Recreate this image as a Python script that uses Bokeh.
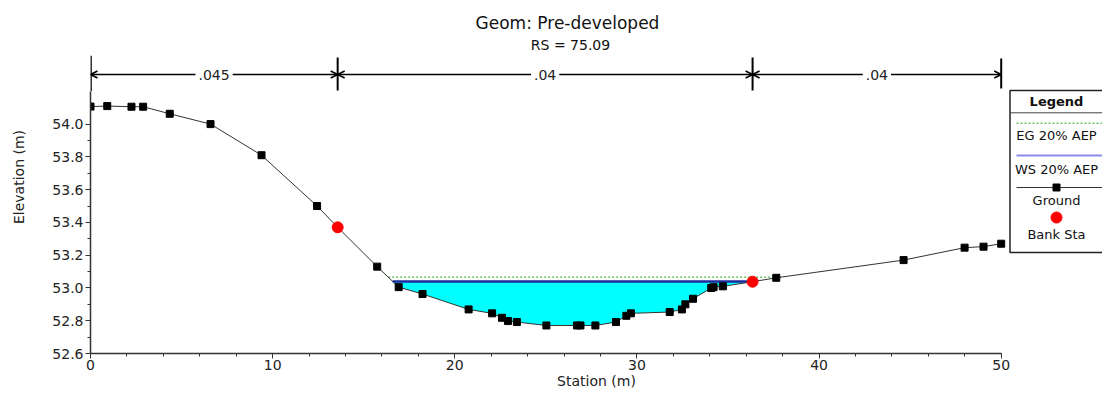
import numpy as np
from bokeh.plotting import figure
from bokeh.models import FixedTicker, Arrow, OpenHead, Label, PrintfTickFormatter
from bokeh.core.properties import value
from bokeh.embed import file_html
from bokeh.resources import INLINE

# ---------------- data ----------------
title_text = "Geom: Pre-developed"
subtitle_text = "RS = 75.09"
x_title = "Station (m)"
y_title = "Elevation (m)"

station = [0.0, 0.92, 2.25, 2.89, 4.35, 6.59, 9.39, 12.44, 13.57, 15.74, 16.92,
           18.23, 20.76, 22.05, 22.59, 22.92, 23.41, 25.03, 26.71, 26.9, 27.72,
           28.85, 29.42, 29.67, 31.8, 32.47, 32.66, 33.08, 34.08, 34.21, 34.72,
           36.35, 37.65, 44.64, 47.99, 49.03, 50.0]
elevation = [54.107, 54.11, 54.106, 54.106, 54.063, 54.0, 53.81, 53.50, 53.37,
             53.13, 53.005, 52.963, 52.869, 52.845, 52.818, 52.798, 52.792,
             52.771, 52.771, 52.771, 52.771, 52.792, 52.83, 52.845, 52.853,
             52.869, 52.9, 52.934, 53.0, 53.005, 53.01, 53.038, 53.062, 53.17,
             53.246, 53.252, 53.27]
bank_sta = [13.57, 36.35]
ws_elev = 53.04     # WS 20% AEP
eg_elev = 53.066    # EG 20% AEP
n_labels = [".045", ".04", ".04"]

x_major = [0, 10, 20, 30, 40, 50]
x_minor = [2, 4, 6, 8, 12, 14, 16, 18, 22, 24, 26, 28, 32, 34, 36, 38, 42, 44, 46, 48]
y_major = [52.6, 52.8, 53.0, 53.2, 53.4, 53.6, 53.8, 54.0]
y_minor = [52.7, 52.9, 53.1, 53.3, 53.5, 53.7, 53.9]
y_axis_top = 54.2

legend_labels = ["EG 20% AEP", "WS 20% AEP", "Ground", "Bank Sta"]

# ---------------- layout helpers (canvas pixel -> data) ----------------
W, H = 1102, 393
PX0, PXS = 90.0, 18.214     # canvas x of station 0, px per metre
PY0, PYS = 353.0, 163.86    # canvas y of elevation 52.6, px per metre
Y0 = y_major[0]


def dx(px):
    return (px - PX0) / PXS


def dy(py):
    return Y0 + (PY0 - py) / PYS


FONT = value("DejaVu Sans")
s = np.array(station)
e = np.array(elevation)


def crossings(level):
    idx = np.where(e < level)[0]
    i0, i1 = idx[0], idx[-1]
    xl = s[i0 - 1] + (level - e[i0 - 1]) * (s[i0] - s[i0 - 1]) / (e[i0] - e[i0 - 1])
    xr = s[i1] + (level - e[i1]) * (s[i1 + 1] - s[i1]) / (e[i1 + 1] - e[i1])
    return xl, xr, list(s[i0:i1 + 1]), list(e[i0:i1 + 1])


p = figure(width=W, height=H, x_range=(0, dx(W)), y_range=(Y0, dy(0)),
           output_backend="svg", toolbar_location=None,
           min_border_left=int(PX0), min_border_bottom=int(H - PY0),
           min_border_top=0, min_border_right=0)
p.outline_line_color = None
p.xgrid.grid_line_color = None
p.ygrid.grid_line_color = None
p.background_fill_color = "white"
p.border_fill_color = "white"

# axes
for ax in (p.xaxis[0], p.yaxis[0]):
    ax.axis_line_color = "#333333"
    ax.axis_line_width = 1.5
    ax.major_tick_line_color = "#333333"
    ax.minor_tick_line_color = "#333333"
    ax.major_tick_in = 0
    ax.minor_tick_in = 0
    ax.major_tick_out = 5
    ax.minor_tick_out = 3
    ax.major_label_text_font = "DejaVu Sans"
    ax.major_label_text_font_size = "14px"
    ax.major_label_text_color = "#222222"
    ax.major_label_standoff = 2
    ax.axis_label_text_font = "DejaVu Sans"
    ax.axis_label_text_font_size = "14px"
    ax.axis_label_text_font_style = "normal"
    ax.axis_label_text_color = "#222222"

p.xaxis[0].ticker = FixedTicker(ticks=x_major, minor_ticks=x_minor)
p.yaxis[0].ticker = FixedTicker(ticks=y_major, minor_ticks=y_minor)
p.yaxis[0].formatter = PrintfTickFormatter(format="%.1f")
p.xaxis[0].bounds = (x_major[0], x_major[-1])
p.yaxis[0].bounds = (Y0, y_axis_top)
p.xaxis[0].axis_label = x_title
p.yaxis[0].axis_label = y_title
p.xaxis[0].major_label_standoff = 1
p.xaxis[0].axis_label_standoff = 0
p.yaxis[0].axis_label_standoff = 22

# upper continuation of the elevation axis line (up to the n-value bar)
p.segment(x0=[x_major[0]], y0=[y_axis_top], x1=[x_major[0]], y1=[dy(55.3)],
          line_color="#333333", line_width=3)

# water
wxl, wxr, ws_s, ws_e = crossings(ws_elev)
p.patch(x=[wxl] + ws_s + [wxr], y=[ws_elev] + ws_e + [ws_elev],
        fill_color="#00FFFF", line_color=None)
p.line(x=[wxl, wxr], y=[ws_elev, ws_elev], line_color="#1f2a9e", line_width=2.5)
exl, exr, _, _ = crossings(eg_elev)
p.line(x=[exl, exr], y=[eg_elev, eg_elev], line_color="#22a022", line_width=1,
       line_dash="2 2")

# ground
p.line(x=station, y=elevation, line_color="#333333", line_width=1)
p.scatter(x=station, y=elevation, marker="square", size=7, fill_color="black",
          line_color="black")
bank_elev = list(np.interp(bank_sta, s, e))
p.scatter(x=bank_sta, y=bank_elev, marker="circle", size=11, fill_color="#ff0000",
          line_color="#ff0000")

# titles
p.text(x=[dx(567)], y=[dy(22)], text=[title_text], text_font=FONT,
       text_font_size="17px", text_align="center", text_baseline="middle",
       text_color="#111111")
p.text(x=[dx(570)], y=[dy(44)], text=[subtitle_text], text_font=FONT,
       text_font_size="14px", text_align="center", text_baseline="middle",
       text_color="#111111")

# Manning's n bar
n_breaks = [station[0]] + bank_sta + [station[-1]]
ybar = dy(74)
p.segment(x0=n_breaks[1:3], y0=[dy(57)] * 2, x1=n_breaks[1:3], y1=[dy(90)] * 2,
          line_color="black", line_width=2)
p.segment(x0=[n_breaks[3]], y0=[dy(58)], x1=[n_breaks[3]], y1=[dy(88)],
          line_color="black", line_width=2)
for i, lab in enumerate(n_labels):
    a, b = n_breaks[i], n_breaks[i + 1]
    mid = (a + b) / 2
    for end in (a, b):
        p.add_layout(Arrow(end=OpenHead(size=7, line_width=1.5, line_color="black"),
                           x_start=mid, y_start=ybar, x_end=end, y_end=ybar,
                           line_color="black", line_width=1.5))
for i, lab in enumerate(n_labels):
    mid = (n_breaks[i] + n_breaks[i + 1]) / 2
    p.add_layout(Label(x=mid, y=ybar, text=lab, text_font="DejaVu Sans",
                       text_font_size="14px", text_align="center",
                       text_baseline="middle", background_fill_color="white",
                       text_color="#222222", padding=3))

# legend (drawn manually)
lx0, lx1 = dx(1009.5), dx(1130)
lcx = dx(1056)
p.quad(left=[lx0], right=[lx1], top=[dy(90)], bottom=[dy(252)],
       fill_color="white", line_color="#222222", line_width=1.5)
p.segment(x0=[lx0], y0=[dy(112.3)], x1=[lx1], y1=[dy(112.3)],
          line_color="#444444", line_width=1)
p.text(x=[lcx], y=[dy(101)], text=["Legend"], text_font=FONT, text_font_size="13px",
       text_font_style="bold", text_align="center", text_baseline="middle",
       text_color="#111111")
p.line(x=[dx(1016), lx1], y=[dy(122.7)] * 2, line_color="#22a022", line_width=1,
       line_dash="2 2")
p.line(x=[dx(1016), lx1], y=[dy(155)] * 2, line_color="#8c8cf0", line_width=2)
p.line(x=[dx(1016), lx1], y=[dy(187)] * 2, line_color="#333333", line_width=1)
p.scatter(x=[lcx], y=[dy(187)], marker="square", size=7, fill_color="black",
          line_color="black")
p.scatter(x=[lcx], y=[dy(217)], marker="circle", size=11, fill_color="#ff0000",
          line_color="#ff0000")
p.text(x=[lcx] * 4, y=[dy(135), dy(169), dy(200), dy(234)], text=legend_labels,
       text_font=FONT, text_font_size="13px", text_align="center",
       text_baseline="middle", text_color="#111111")

open("out.html", "w").write(file_html(p, INLINE))
